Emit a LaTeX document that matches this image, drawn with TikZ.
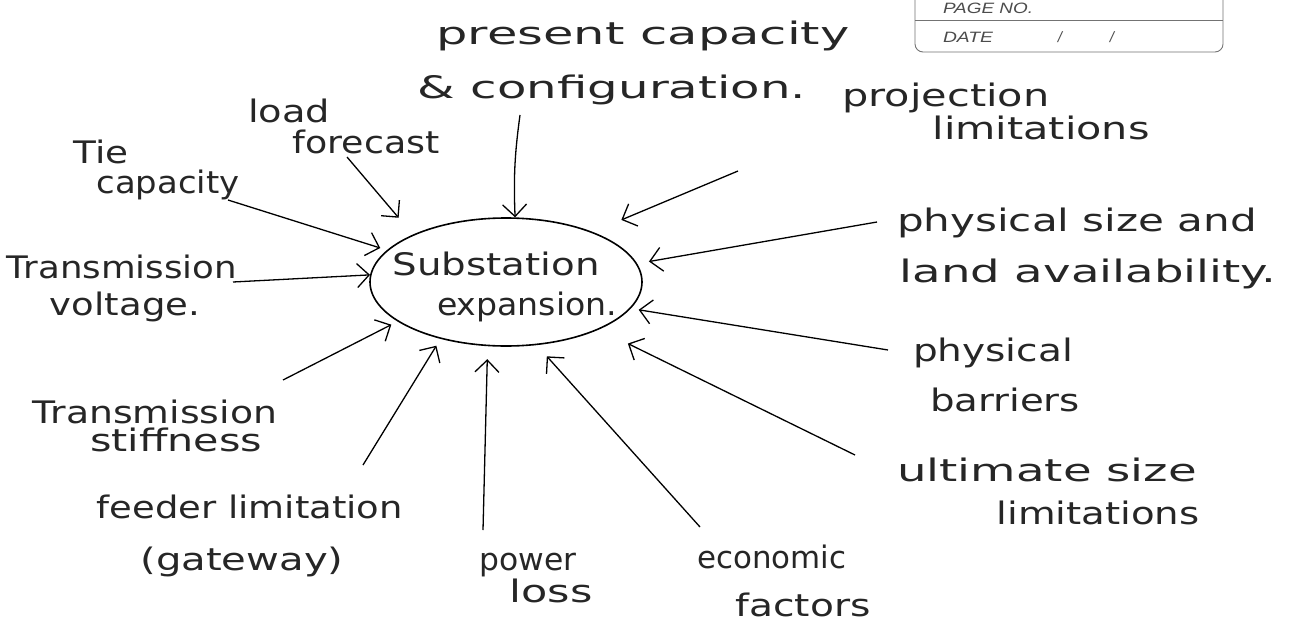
\documentclass[tikz,border=0pt]{standalone}
\usepackage{fontspec}
\setmainfont{DejaVu Sans}
\newfontfamily\hdrfont{Liberation Sans}
\usetikzlibrary{arrows.meta,shapes.geometric}
% stretch a line of text horizontally to a given width
\newcommand\hand[2]{\resizebox{#1}{\height}{#2}}

\begin{document}
\begin{tikzpicture}[x=1pt,y=-1pt,
  lab/.style={inner sep=0pt, font=\fontsize{31}{36}\selectfont, text=black!85},
  hdr/.style={inner sep=0pt, font=\hdrfont\itshape\fontsize{15}{18}\selectfont, text=black!70},
  arr/.style={line width=1.3pt, -{Straight Barb[length=12pt,width=24pt]}},
  hubline/.style={draw, line width=1.6pt, ellipse, inner sep=0pt,
                  minimum width=272pt, minimum height=128pt},
  frame/.style={draw=black!55, line width=0.9pt}]

\fill[white] (0,0) rectangle (1289,626);
\useasboundingbox (0,0) rectangle (1289,626);

% page header box
\draw[frame, rounded corners=8pt] (915,0) -- (915,52) -- (1223,52) -- (1223,0);
\draw[frame] (915,20) -- (1223,20);
\node[hdr] (pageno) at (988,8) {\hand{90pt}{PAGE NO.}};
\node[hdr] (date) at (968,37) {\hand{50pt}{DATE}};
\node[hdr] (slashA) at (1060,37) {/};
\node[hdr] (slashB) at (1112,37) {/};

% central node
\node[hubline] (hub) at (506,282) {};
\node[lab] (sub) at (496,264) {\hand{207pt}{Substation}};
\node[lab] (exp) at (527,307) {\hand{180pt}{expansion.}};

% factor labels
\node[lab] (pc1) at (643,36) {\hand{413pt}{present capacity}};
\node[lab] (pc2) at (612,90) {\hand{388pt}{\& configuration.}};
\node[lab] (lf1) at (289,111) {\hand{82pt}{load}};
\node[lab] (lf2) at (366,142) {\hand{147pt}{forecast}};
\node[lab] (tc1) at (101,152) {\hand{55pt}{Tie}};
\node[lab] (tc2) at (168,185) {\hand{143pt}{capacity}};
\node[lab] (tv1) at (122,267) {\hand{230pt}{Transmission}};
\node[lab] (tv2) at (125,307) {\hand{150pt}{voltage.}};
\node[lab] (ts1) at (155,412) {\hand{244pt}{Transmission}};
\node[lab] (ts2) at (176,440) {\hand{172pt}{stiffness}};
\node[lab] (fl1) at (250,507) {\hand{306pt}{feeder limitation}};
\node[lab] (fl2) at (242,562) {\hand{203pt}{(gateway)}};
\node[lab] (pl1) at (528,565) {\hand{97pt}{power}};
\node[lab] (pl2) at (551,591) {\hand{83pt}{loss}};
\node[lab] (ef1) at (772,557) {\hand{149pt}{economic}};
\node[lab] (ef2) at (803,605) {\hand{135pt}{factors}};
\node[lab] (us1) at (1047,470) {\hand{300pt}{ultimate size}};
\node[lab] (us2) at (1098,513) {\hand{203pt}{limitations}};
\node[lab] (pb1) at (993,353) {\hand{160pt}{physical}};
\node[lab] (pb2) at (1005,400) {\hand{150pt}{barriers}};
\node[lab] (ps1) at (1077,223) {\hand{360pt}{physical size and}};
\node[lab] (ps2) at (1088,274) {\hand{377pt}{land availability.}};
\node[lab] (pj1) at (946,98) {\hand{207pt}{projection}};
\node[lab] (pj2) at (1041,128) {\hand{217pt}{limitations}};

% tails of the arrows
\coordinate (tP) at (520,115);
\coordinate (tL) at (347,157);
\coordinate (tT) at (228,200);
\coordinate (tV) at (233,282);
\coordinate (tS) at (283,380);
\coordinate (tF) at (363,465);
\coordinate (tW) at (483,530);
\coordinate (tE) at (700,527);
\coordinate (tU) at (855,455);
\coordinate (tB) at (888,350);
\coordinate (tA) at (877,222);
\coordinate (tJ) at (738,171);

% arrows into the central node
\draw[arr] (tP) to[bend right=5] (hub.82);
\draw[arr, shorten >=22pt] (tL) -- (hub.153);
\draw[arr, shorten >=7pt] (tT) -- (hub.165);
\draw[arr] (tV) -- (hub.177);
\draw[arr, shorten >=7pt] (tS) -- (hub.200);
\draw[arr, shorten >=8pt] (tF) -- (hub.221);
\draw[arr, shorten >=13pt] (tW) -- (hub.254);
\draw[arr, shorten >=15pt] (tE) -- (hub.296);
\draw[arr, shorten >=32pt] (tU) -- (hub.333);
\draw[arr, shorten >=8pt] (tB) -- (hub.348);
\draw[arr, shorten >=12pt] (tA) -- (hub.8);
\draw[arr, shorten >=31pt] (tJ) -- (hub.30.5);
\end{tikzpicture}
\end{document}
